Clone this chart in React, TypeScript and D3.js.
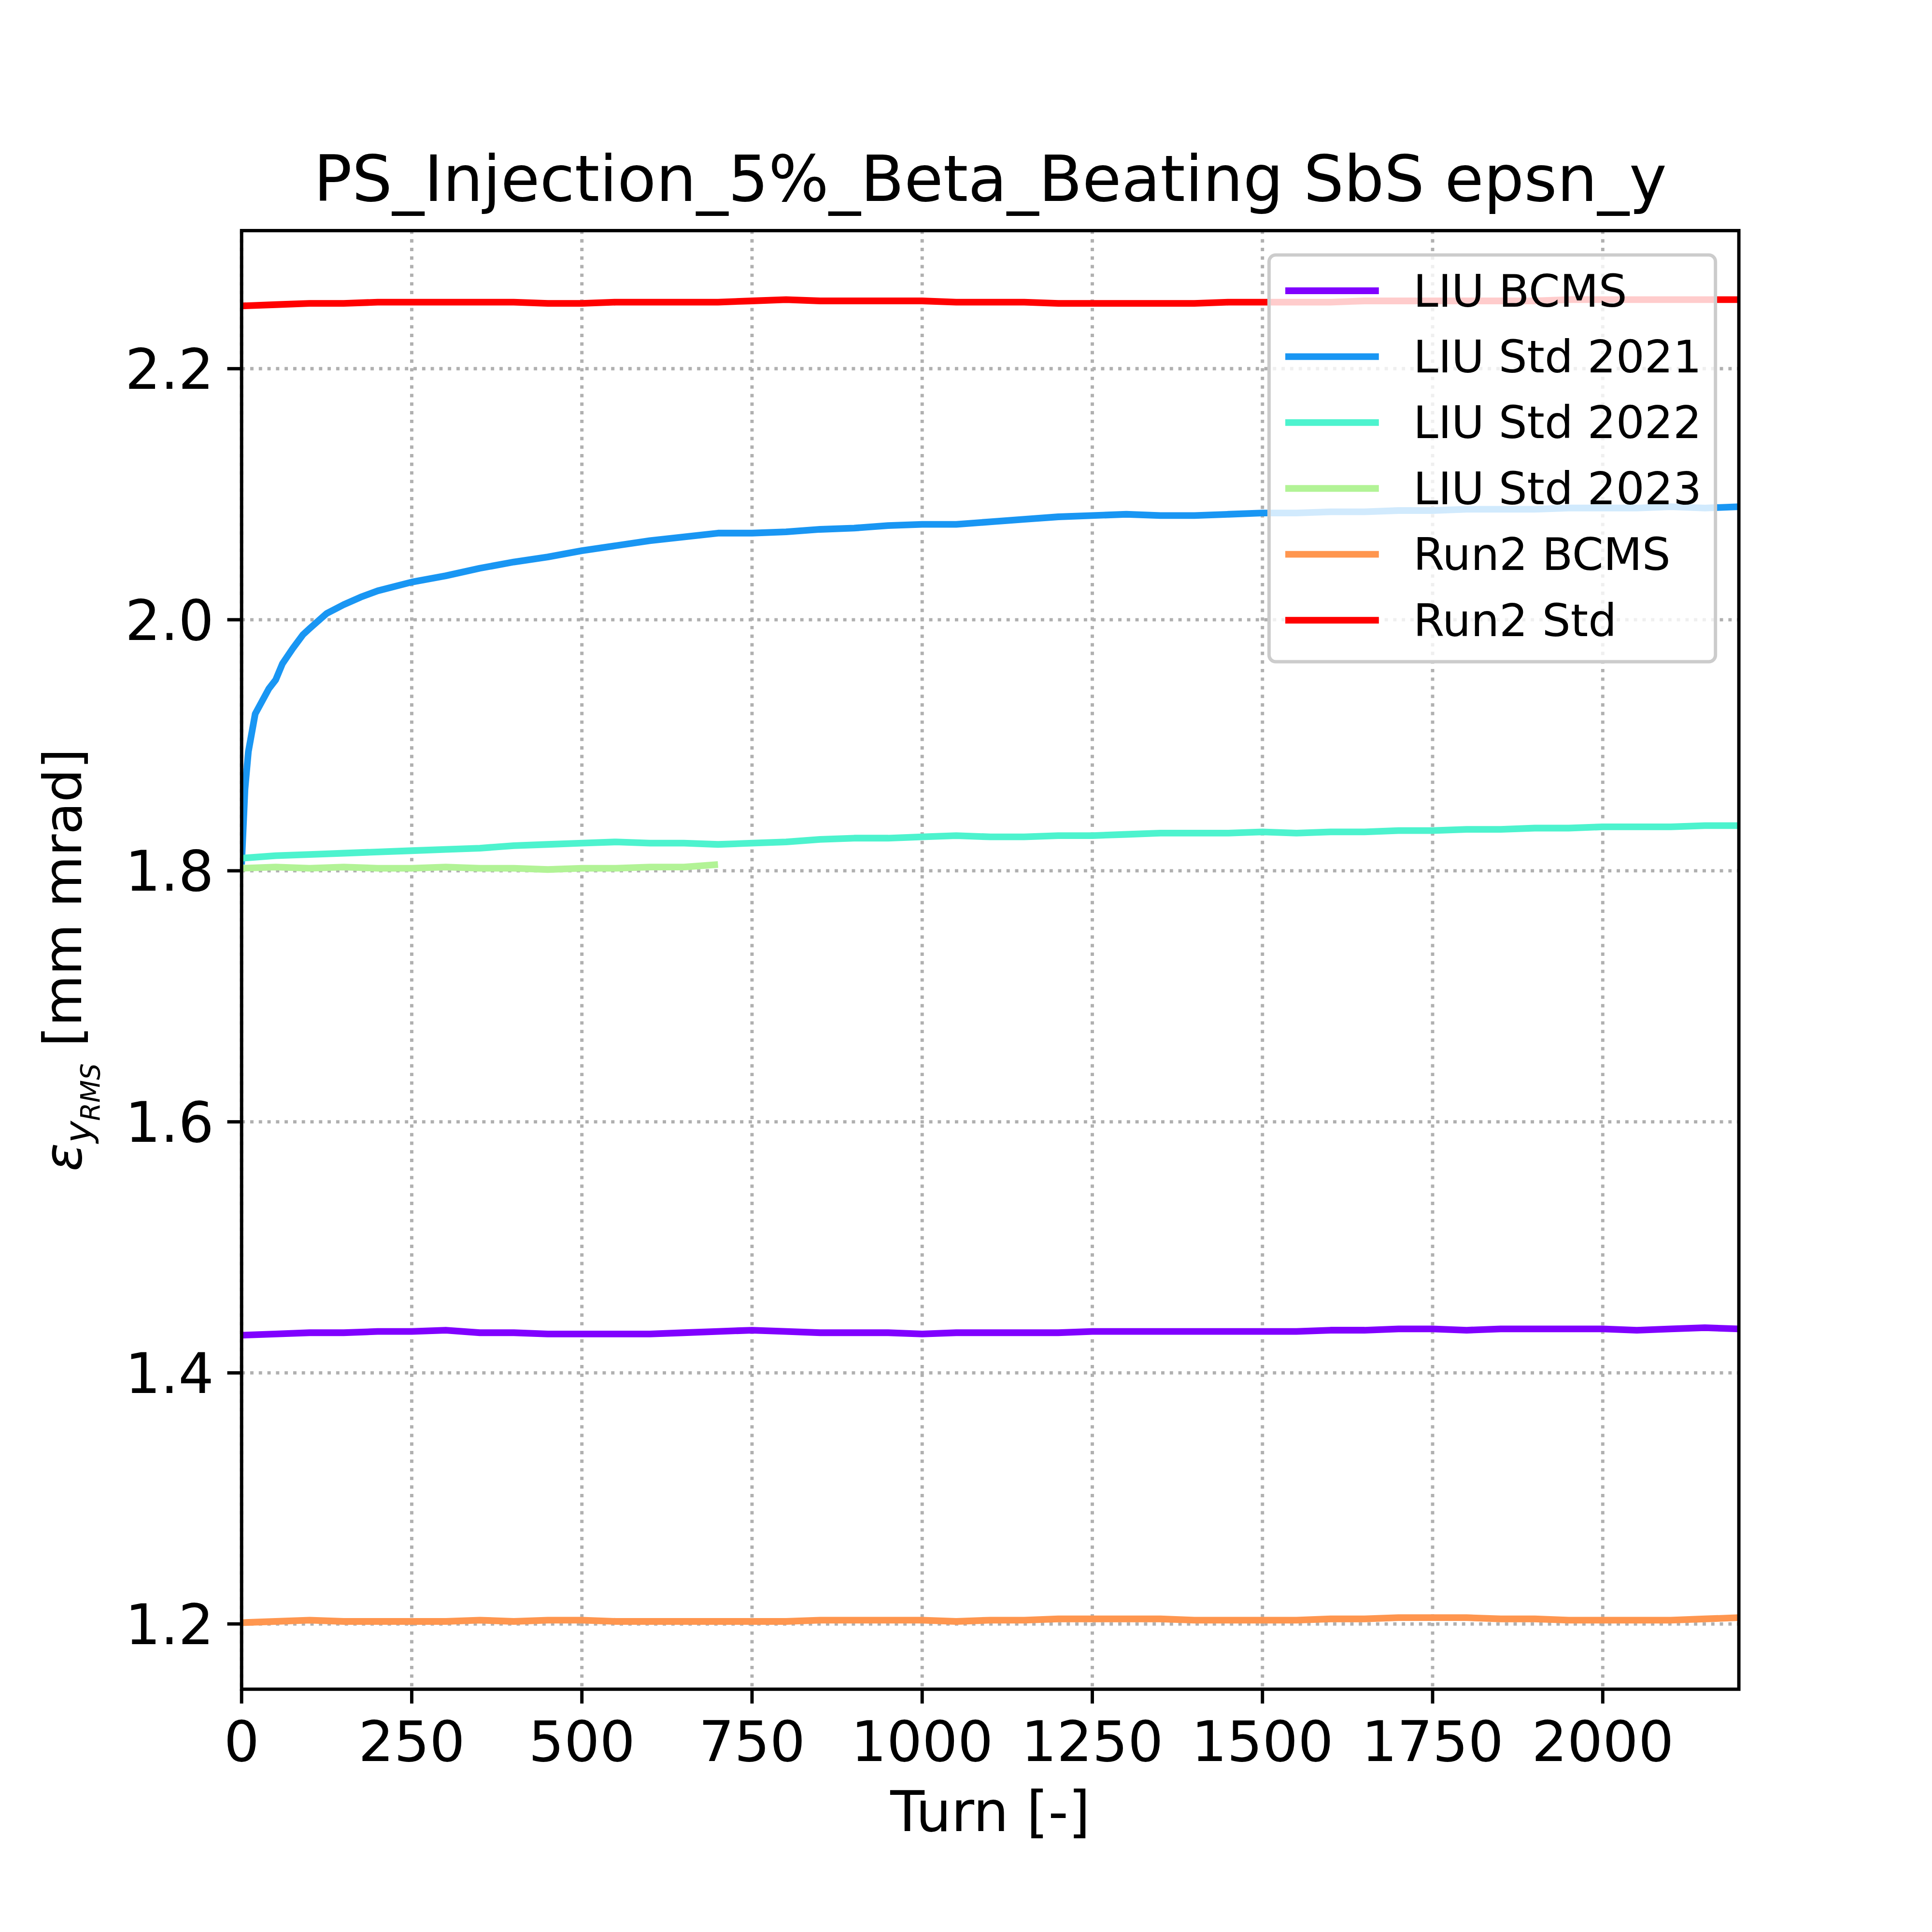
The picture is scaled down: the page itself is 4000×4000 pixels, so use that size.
import * as d3 from 'd3';

const turns = [0, 50, 100, 150, 200, 250, 300, 350, 400, 450, 500, 550, 600, 650, 700, 750, 800, 850, 900, 950, 1000, 1050, 1100, 1150, 1200, 1250, 1300, 1350, 1400, 1450, 1500, 1550, 1600, 1650, 1700, 1750, 1800, 1850, 1900, 1950, 2000, 2050, 2100, 2150, 2200];

const liuBcms = [1.430, 1.431, 1.432, 1.432, 1.433, 1.433, 1.434, 1.432, 1.432, 1.431, 1.431, 1.431, 1.431, 1.432, 1.433, 1.434, 1.433, 1.432, 1.432, 1.432, 1.431, 1.432, 1.432, 1.432, 1.432, 1.433, 1.433, 1.433, 1.433, 1.433, 1.433, 1.433, 1.434, 1.434, 1.435, 1.435, 1.434, 1.435, 1.435, 1.435, 1.435, 1.434, 1.435, 1.436, 1.435];

const std2021Turns = [0, 5, 10, 20, 30, 40, 50, 60, 75, 90, 100, 125, 150, 175, 200, 250, 300, 350, 400, 450, 500, 550, 600, 650, 700, 750, 800, 850, 900, 950, 1000, 1050, 1100, 1150, 1200, 1250, 1300, 1350, 1400, 1450, 1500, 1550, 1600, 1650, 1700, 1750, 1800, 1850, 1900, 1950, 2000, 2050, 2100, 2150, 2200];
const std2021 = [1.805, 1.865, 1.895, 1.925, 1.935, 1.945, 1.952, 1.965, 1.977, 1.988, 1.993, 2.005, 2.012, 2.018, 2.023, 2.030, 2.035, 2.041, 2.046, 2.050, 2.055, 2.059, 2.063, 2.066, 2.069, 2.069, 2.070, 2.072, 2.073, 2.075, 2.076, 2.076, 2.078, 2.080, 2.082, 2.083, 2.084, 2.083, 2.083, 2.084, 2.085, 2.085, 2.086, 2.086, 2.087, 2.087, 2.088, 2.088, 2.088, 2.089, 2.089, 2.089, 2.090, 2.089, 2.090];

const std2022 = [1.810, 1.812, 1.813, 1.814, 1.815, 1.816, 1.817, 1.818, 1.820, 1.821, 1.822, 1.823, 1.822, 1.822, 1.821, 1.822, 1.823, 1.825, 1.826, 1.826, 1.827, 1.828, 1.827, 1.827, 1.828, 1.828, 1.829, 1.830, 1.830, 1.830, 1.831, 1.830, 1.831, 1.831, 1.832, 1.832, 1.833, 1.833, 1.834, 1.834, 1.835, 1.835, 1.835, 1.836, 1.836];

const std2023Turns = [0, 50, 100, 150, 200, 250, 300, 350, 400, 450, 500, 550, 600, 650, 700];
const std2023 = [1.802, 1.803, 1.802, 1.803, 1.802, 1.802, 1.803, 1.802, 1.802, 1.801, 1.802, 1.802, 1.803, 1.803, 1.805];

const run2Bcms = [1.201, 1.202, 1.203, 1.202, 1.202, 1.202, 1.202, 1.203, 1.202, 1.203, 1.203, 1.202, 1.202, 1.202, 1.202, 1.202, 1.202, 1.203, 1.203, 1.203, 1.203, 1.202, 1.203, 1.203, 1.204, 1.204, 1.204, 1.204, 1.203, 1.203, 1.203, 1.203, 1.204, 1.204, 1.205, 1.205, 1.205, 1.204, 1.204, 1.203, 1.203, 1.203, 1.203, 1.204, 1.205];

const run2Std = [2.250, 2.251, 2.252, 2.252, 2.253, 2.253, 2.253, 2.253, 2.253, 2.252, 2.252, 2.253, 2.253, 2.253, 2.253, 2.254, 2.255, 2.254, 2.254, 2.254, 2.254, 2.253, 2.253, 2.253, 2.252, 2.252, 2.252, 2.252, 2.252, 2.253, 2.253, 2.253, 2.253, 2.254, 2.254, 2.254, 2.254, 2.254, 2.254, 2.255, 2.255, 2.255, 2.255, 2.255, 2.255];

const seriesNames = ['LIU BCMS', 'LIU Std 2021', 'LIU Std 2022', 'LIU Std 2023', 'Run2 BCMS', 'Run2 Std'];
const seriesColors = ['#8000ff', '#1996f3', '#4df3ce', '#b2f396', '#ff964f', '#ff0000'];
const xTicks = [0, 250, 500, 750, 1000, 1250, 1500, 1750, 2000];
const yTicks = [1.2, 1.4, 1.6, 1.8, 2.0, 2.2];

export default function App() {
  const W = 4000, H = 4000;
  const left = 506, right = 3642, top = 483, bottom = 3538;
  const x = d3.scaleLinear().domain([0, 2200]).range([left, right]);
  const y = d3.scaleLinear().domain([1.148, 2.31]).range([bottom, top]);
  const line = d3.line<[number, number]>().x((d) => x(d[0])).y((d) => y(d[1]));

  const series: [number, number][][] = [
    turns.map((t, i) => [t, liuBcms[i]]),
    std2021Turns.map((t, i) => [t, std2021[i]]),
    turns.map((t, i) => [t, std2022[i]]),
    std2023Turns.map((t, i) => [t, std2023[i]]),
    turns.map((t, i) => [t, run2Bcms[i]]),
    turns.map((t, i) => [t, run2Std[i]]),
  ];
  const font = 'DejaVu Sans';

  return (
    <svg width={W} height={H} style={{ display: 'block', margin: -8 }} fontFamily={font}>
      <rect width={W} height={H} fill="#fff" />
      <defs>
        <clipPath id="clip"><rect x={left} y={top} width={right - left} height={bottom - top} /></clipPath>
      </defs>
      <g transform="scale(0.9885)">
        {xTicks.map((t) => (
          <line key={'gx' + t} x1={x(t)} x2={x(t)} y1={top} y2={bottom} stroke="#b0b0b0" strokeWidth={7} strokeDasharray="7 11" />
        ))}
        {yTicks.map((t) => (
          <line key={'gy' + t} x1={left} x2={right} y1={y(t)} y2={y(t)} stroke="#b0b0b0" strokeWidth={7} strokeDasharray="7 11" />
        ))}
        <g clipPath="url(#clip)">
          {series.map((s, i) => (
            <path key={i} d={line(s) ?? ''} fill="none" stroke={seriesColors[i]} strokeWidth={14} strokeLinejoin="round" />
          ))}
        </g>
        <rect x={left} y={top} width={right - left} height={bottom - top} fill="none" stroke="#000" strokeWidth={7} />
        {xTicks.map((t) => (
          <g key={'tx' + t}>
            <line x1={x(t)} x2={x(t)} y1={bottom} y2={bottom + 30} stroke="#000" strokeWidth={7} />
            <text x={x(t)} y={bottom + 150} textAnchor="middle" fontSize={117}>{t}</text>
          </g>
        ))}
        {yTicks.map((t) => (
          <g key={'ty' + t}>
            <line x1={left - 30} x2={left} y1={y(t)} y2={y(t)} stroke="#000" strokeWidth={7} />
            <text x={left - 58} y={y(t) + 42} textAnchor="end" fontSize={117}>{t.toFixed(1)}</text>
          </g>
        ))}
        <text x={(left + right) / 2} y={421} textAnchor="middle" fontSize={133}>PS_Injection_5%_Beta_Beating SbS epsn_y</text>
        <text x={(left + right) / 2} y={3835} textAnchor="middle" fontSize={117}>Turn [-]</text>
        <text transform={`translate(170, ${(top + bottom) / 2}) rotate(-90)`} textAnchor="middle" fontSize={110}>
          <tspan fontStyle="italic">ε</tspan>
          <tspan fontStyle="italic" fontSize={78} dy={20}>y</tspan>
          <tspan fontStyle="italic" fontSize={55} dy={18}>RMS</tspan>
          <tspan dy={-38}> [mm mrad]</tspan>
        </text>
        <g>
          <rect x={2658} y={534} width={935} height={852} rx={14} fill="#fff" fillOpacity={0.8} stroke="#cccccc" strokeWidth={7} />
          {seriesNames.map((n, i) => (
            <g key={n}>
              <line x1={2692} x2={2888} y1={609 + i * 138} y2={609 + i * 138} stroke={seriesColors[i]} strokeWidth={14} />
              <text x={2960} y={609 + i * 138 + 33} fontSize={94}>{n}</text>
            </g>
          ))}
        </g>
      </g>
    </svg>
  );
}
